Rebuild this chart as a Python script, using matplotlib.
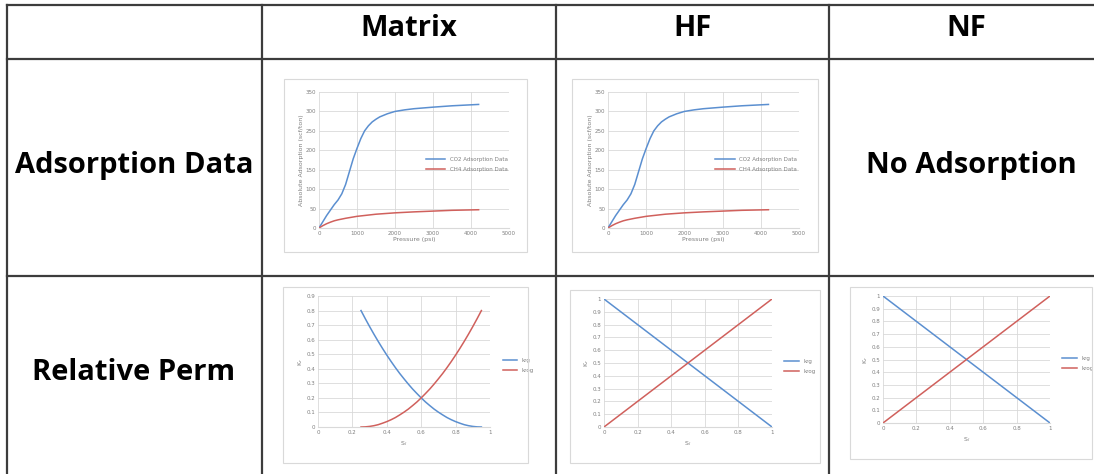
import matplotlib.pyplot as plt
from matplotlib.lines import Line2D
from matplotlib.patches import Rectangle

W, H = 1094, 474

# -----------------------------
# Data
# -----------------------------
pressure_co2 = [0, 100, 200, 300, 400, 500, 600, 700, 800, 900, 1000, 1100, 1200, 1300,
                1400, 1500, 1600, 1800, 2000, 2250, 2500, 3000, 3500, 4200]
co2_ads = [0, 16, 32, 46, 60, 72, 88, 112, 145, 178, 205, 230, 250, 263,
           273, 280, 286, 294, 300, 304, 307, 311, 314.5, 318]
pressure_ch4 = [0, 100, 200, 300, 400, 500, 700, 1000, 1500, 2000, 2500, 3000, 3500, 4200]
ch4_ads = [0, 6, 11, 15, 18.5, 21, 25, 30, 35.5, 39, 41.5, 43.5, 45.5, 47]

sl_matrix = [0.25, 0.275, 0.30, 0.325, 0.35, 0.375, 0.40, 0.425, 0.45, 0.475, 0.50,
             0.525, 0.55, 0.575, 0.60, 0.625, 0.65, 0.675, 0.70, 0.725, 0.75, 0.775,
             0.80, 0.825, 0.85, 0.875, 0.90, 0.925, 0.95]
krg_matrix = [0.80, 0.744, 0.690, 0.638, 0.588, 0.540, 0.494, 0.450, 0.408, 0.368, 0.331,
              0.295, 0.261, 0.230, 0.200, 0.172, 0.147, 0.123, 0.102, 0.083, 0.065, 0.050,
              0.037, 0.026, 0.016, 0.009, 0.004, 0.001, 0.0]
krog_matrix = krg_matrix[::-1]

sl_frac = [0, 1]
krg_frac = [1, 0]
krog_frac = [0, 1]

col_headers = ["Matrix", "HF", "NF"]
row_headers = ["Adsorption Data", "Relative Perm"]

BLUE = "#5b8fd0"
RED = "#d0605c"
GRID = "#d9d9d9"
TICK = "#7f7f7f"
HEAD_FONT = ["Open Sans", "DejaVu Sans"]


def fx(x):
    return x / W


def fy(y):
    return 1 - y / H


def add_axes_px(fig, left, top, right, bottom):
    return fig.add_axes([fx(left), fy(bottom), (right - left) / W, (bottom - top) / H])


def frame_px(fig, left, top, right, bottom):
    fig.add_artist(Rectangle((fx(left), fy(bottom)), (right - left) / W, (bottom - top) / H,
                             transform=fig.transFigure, fill=False, ec="#d9d9d9", lw=0.8))


def style_excel(ax):
    for s in ax.spines.values():
        s.set_visible(False)
    ax.spines["bottom"].set_visible(True)
    ax.spines["bottom"].set_color(GRID)
    ax.grid(True, color=GRID, lw=0.6)
    ax.set_axisbelow(True)
    ax.tick_params(length=0, labelsize=4, colors=TICK, pad=2)


def adsorption_chart(fig, box, area):
    frame_px(fig, *box)
    ax = add_axes_px(fig, *area)
    ax.plot(pressure_co2, co2_ads, color=BLUE, lw=1.1, label="CO2 Adsorption Data")
    ax.plot(pressure_ch4, ch4_ads, color=RED, lw=1.1, label="CH4 Adsorption Data")
    ax.set_xlim(0, 5000)
    ax.set_ylim(0, 350)
    ax.set_xticks(range(0, 5001, 1000))
    ax.set_yticks(range(0, 351, 50))
    style_excel(ax)
    ax.set_xlabel("Pressure (psi)", fontsize=4.5, color=TICK, labelpad=1)
    ax.set_ylabel("Absolute Adsorption (scf/ton)", fontsize=4.5, color=TICK, labelpad=1)
    ax.legend(loc="center left", bbox_to_anchor=(0.55, 0.47), frameon=False, fontsize=4,
              handlelength=3.5, labelcolor=TICK, borderaxespad=0, labelspacing=0.9)


def relperm_chart(fig, box, area, s, krg, krog, ymax, yticks):
    frame_px(fig, *box)
    ax = add_axes_px(fig, *area)
    ax.plot(s, krg, color=BLUE, lw=1.1, label="krg")
    ax.plot(s, krog, color=RED, lw=1.1, label="krog")
    ax.set_xlim(0, 1)
    ax.set_ylim(0, ymax)
    ax.set_xticks([0, 0.2, 0.4, 0.6, 0.8, 1])
    ax.set_xticklabels(["0", "0.2", "0.4", "0.6", "0.8", "1"])
    ax.set_yticks(yticks)
    ax.set_yticklabels(["0" if v == 0 else ("1" if v == 1 else f"{v:.1f}") for v in yticks])
    style_excel(ax)
    ax.set_xlabel("S$_l$", fontsize=4.5, color=TICK, labelpad=3)
    ax.set_ylabel("K$_r$", fontsize=4.5, color=TICK, labelpad=1)
    ax.legend(loc="center left", bbox_to_anchor=(1.06, 0.47), frameon=False, fontsize=4,
              handlelength=2.6, labelcolor=TICK, borderaxespad=0, labelspacing=0.9)


fig = plt.figure(figsize=(W / 100, H / 100), dpi=100)

# table grid
LINE = "#3c3c3c"
for y in [5, 59, 276]:
    fig.add_artist(Line2D([fx(7), fx(W)], [fy(y), fy(y)], color=LINE, lw=1.6))
for x in [7, 262, 556, 829]:
    fig.add_artist(Line2D([fx(x), fx(x)], [fy(5), fy(H)], color=LINE, lw=1.6))

# headers
HEAD_SIZE = 21
for x, t in zip([409, 693, 966], col_headers):
    fig.text(fx(x), fy(28), t, ha="center", va="center", fontsize=HEAD_SIZE, fontweight="bold",
             family=HEAD_FONT)
for y, t in zip([165, 372], row_headers):
    fig.text(fx(134), fy(y), t, ha="center", va="center", fontsize=HEAD_SIZE, fontweight="bold",
             family=HEAD_FONT)
fig.text(fx(971), fy(165), "No Adsorption", ha="center", va="center", fontsize=HEAD_SIZE,
         fontweight="bold", family=HEAD_FONT)

# adsorption charts
adsorption_chart(fig, (284, 79, 527, 252), (319, 92, 509, 228))
adsorption_chart(fig, (572, 79, 818, 252), (608, 92, 799, 228))

# relative permeability charts
relperm_chart(fig, (283, 287, 528, 463), (318, 296, 490, 427),
              sl_matrix, krg_matrix, krog_matrix, 0.9,
              [0, 0.1, 0.2, 0.3, 0.4, 0.5, 0.6, 0.7, 0.8, 0.9])
relperm_chart(fig, (570, 290, 820, 463), (604, 299, 772, 427),
              sl_frac, krg_frac, krog_frac, 1.0,
              [0, 0.1, 0.2, 0.3, 0.4, 0.5, 0.6, 0.7, 0.8, 0.9, 1])
relperm_chart(fig, (850, 287, 1092, 459), (883, 296, 1050, 423),
              sl_frac, krg_frac, krog_frac, 1.0,
              [0, 0.1, 0.2, 0.3, 0.4, 0.5, 0.6, 0.7, 0.8, 0.9, 1])

fig.savefig("out.png", dpi=100)
